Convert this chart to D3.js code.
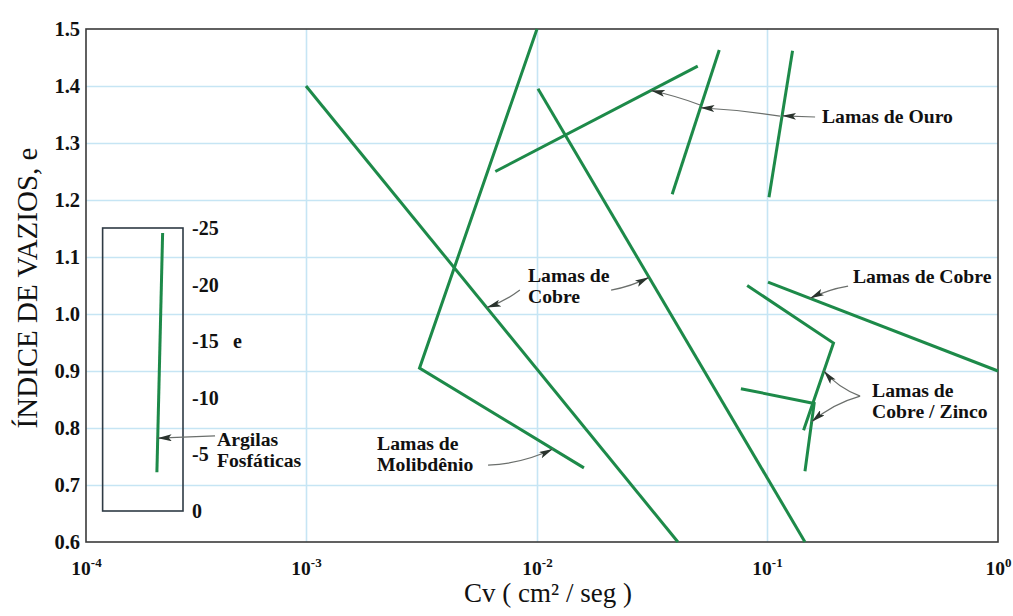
<!DOCTYPE html>
<html><head><meta charset="utf-8">
<script src="https://cdn.jsdelivr.net/npm/d3@7"></script>
<style>
body{margin:0;background:#fff}
svg{display:block}
text{font-family:"Liberation Serif","Times New Roman",serif;fill:#111}
</style>
</head><body>
<svg id="c" width="1013" height="616"></svg>
<script>
// ---------- data ----------
const xDecades = [1e-4, 1e-3, 1e-2, 1e-1, 1];
const xExp = ["-4", "-3", "-2", "-1", "0"];
const yTicks = [0.6, 0.7, 0.8, 0.9, 1.0, 1.1, 1.2, 1.3, 1.4, 1.5];
const insetTicks = [0, -5, -10, -15, -20, -25];

// series: [Cv (cm²/s), e]
const lamasCobreA    = [[0.001, 1.4], [0.041, 0.6]];
const lamasMolibdenio = [[0.01, 1.5], [0.0031, 0.905], [0.016, 0.73]];
const lamasCobreB    = [[0.0101, 1.395], [0.146, 0.6]];
const lamasOuro1     = [[0.0066, 1.25], [0.05, 1.435]];
const lamasOuro2     = [[0.0387, 1.21], [0.062, 1.463]];
const lamasOuro3     = [[0.102, 1.205], [0.129, 1.462]];
const lamasCobreC    = [[0.101, 1.056], [1.0, 0.9]];
const cobreZinco1    = [[0.082, 1.05], [0.194, 0.949], [0.144, 0.796]];
const cobreZinco2    = [[0.077, 0.869], [0.16, 0.843], [0.146, 0.724]];
// inset (e from 0 to -25)
const argilasFosfaticas = [[2.23e-4, -24.56], [2.1e-4, -3.43]];
const insetXRange = [1.19e-4, 2.76e-4];

// labels [x, y, lines]
const labels = [
  {x: 0.173,  y: 1.335, lines: ["Lamas de Ouro"]},
  {x: 0.2354, y: 1.054, lines: ["Lamas de Cobre"]},
  {x: 0.00914, y: 1.056, lines: ["Lamas de", "Cobre"]},
  {x: 0.00203, y: 0.7614, lines: ["Lamas de", "Molibdênio"]},
  {x: 0.285,  y: 0.8544, lines: ["Lamas de", "Cobre / Zinco"]}
];
const insetLabel = {x: 3.94e-4, e: -5.74, lines: ["Argilas", "Fosfáticas"]};

// arrows: from point -> point on a series segment
const arrows = [
  {from: [0.1615, 1.3456], s: lamasOuro3, seg: 0, t: 0.555, bend: 0},
  {from: [0.1138, 1.347],  s: lamasOuro2, seg: 0, t: 0.60,  bend: 2},
  {from: [0.0512, 1.3667], s: lamasOuro1, seg: 0, t: 0.768, bend: 2},
  {from: [0.2244, 1.049],  s: lamasCobreC, seg: 0, t: 0.183, bend: 3},
  {from: [0.00843, 1.042], s: lamasCobreA, seg: 0, t: 0.486, bend: -3},
  {from: [0.0210, 1.042],  s: lamasCobreB, seg: 0, t: 0.416, bend: 3},
  {from: [0.00614, 0.735], s: lamasMolibdenio, seg: 1, t: 0.811, bend: 7},
  {from: [0.253, 0.856],   s: cobreZinco1, seg: 1, t: 0.32, bend: -6},
  {from: [0.253, 0.856],   s: cobreZinco2, seg: 1, t: 0.27, bend: 6}
];

// ---------- scales ----------
const svg = d3.select("#c");
const x = d3.scaleLog().domain(xDecades).range([86, 306, 537, 767, 998]);
const y = d3.scaleLinear().domain([0.6, 1.5]).range([542, 29]);
const ye = d3.scaleLinear().domain([0, -25]).range([511, 228]);
const X0 = x(1e-4), X1 = x(1), Y0 = y(0.6), Y1 = y(1.5);

const GREEN = "#1d8a49", GRID = "#c6e5f4";

// grid
const gy = svg.append("g").attr("transform", `translate(${X0},0)`)
  .call(d3.axisLeft(y).tickValues(yTicks.slice(1, -1)).tickSize(-(X1 - X0)).tickFormat(""));
gy.select(".domain").remove();
gy.selectAll("line").attr("stroke", GRID).attr("stroke-width", 1.6);
const gx = svg.append("g").attr("transform", `translate(0,${Y0})`)
  .call(d3.axisBottom(x).tickValues(xDecades.slice(1, -1)).tickSize(-(Y0 - Y1)).tickFormat(""));
gx.select(".domain").remove();
gx.selectAll("line").attr("stroke", GRID).attr("stroke-width", 1.6);

// frame
svg.append("rect").attr("x", X0).attr("y", Y1).attr("width", X1 - X0).attr("height", Y0 - Y1)
  .attr("fill", "none").attr("stroke", "#3a3a3a").attr("stroke-width", 1.6);

// y tick labels
const ay = svg.append("g").attr("transform", `translate(${X0},0)`)
  .call(d3.axisLeft(y).tickValues(yTicks).tickSize(0).tickPadding(6).tickFormat(d3.format(".1f")));
ay.select(".domain").remove();
ay.selectAll("text").attr("font-family", "Liberation Serif").attr("font-size", 20.5)
  .attr("font-weight", "bold").attr("fill", "#111");

// x tick labels with superscripts
const ax = svg.append("g").attr("transform", `translate(0,${Y0})`)
  .call(d3.axisBottom(x).tickValues(xDecades).tickSize(0).tickFormat(""));
ax.select(".domain").remove();
ax.selectAll(".tick text").each(function(d, i) {
  const t = d3.select(this).attr("y", 33).attr("dy", 0)
    .attr("font-family", "Liberation Serif").attr("font-size", 19.5)
    .attr("font-weight", "bold").attr("fill", "#111").attr("text-anchor", "middle");
  t.append("tspan").text("10");
  t.append("tspan").attr("dy", -8).attr("font-size", 13).text(xExp[i]);
});

// axis titles
svg.append("text").attr("transform", `translate(37,288) rotate(-90)`)
  .attr("text-anchor", "middle").attr("font-size", 29).text("ÍNDICE DE VAZIOS, e");
svg.append("text").attr("x", 548).attr("y", 602)
  .attr("text-anchor", "middle").attr("font-size", 27).text("Cv ( cm² / seg )");

// inset frame + axis
const IX0 = x(insetXRange[0]), IX1 = x(insetXRange[1]);
svg.append("rect").attr("x", IX0).attr("y", ye(-25)).attr("width", IX1 - IX0)
  .attr("height", ye(0) - ye(-25)).attr("fill", "none").attr("stroke", "#2e3a44").attr("stroke-width", 1.6);
const ai = svg.append("g").attr("transform", `translate(${IX1},0)`)
  .call(d3.axisRight(ye).tickValues(insetTicks).tickSize(0).tickPadding(9).tickFormat(d => String(d)));
ai.select(".domain").remove();
ai.selectAll("text").attr("font-family", "Liberation Serif").attr("font-size", 20)
  .attr("font-weight", "bold").attr("fill", "#111");
svg.append("text").attr("x", IX1 + 50).attr("y", ye(-15)).attr("dy", "0.35em")
  .attr("font-size", 20).attr("font-weight", "bold").text("e");

// lines
const line = d3.line().x(d => x(d[0])).y(d => y(d[1]));
const lineInset = d3.line().x(d => x(d[0])).y(d => ye(d[1]));
const series = [lamasCobreA, lamasMolibdenio, lamasCobreB, lamasOuro1, lamasOuro2, lamasOuro3,
  lamasCobreC, cobreZinco1, cobreZinco2];
svg.append("g").selectAll("path").data(series).join("path")
  .attr("d", line).attr("fill", "none").attr("stroke", GREEN).attr("stroke-width", 3)
  .attr("stroke-linejoin", "miter");
svg.append("path").attr("d", lineInset(argilasFosfaticas)).attr("fill", "none")
  .attr("stroke", GREEN).attr("stroke-width", 3);

// arrow marker
svg.append("defs").append("marker").attr("id", "ah").attr("viewBox", "0 0 14 7")
  .attr("refX", 14).attr("refY", 3.5).attr("markerWidth", 14).attr("markerHeight", 7)
  .attr("markerUnits", "userSpaceOnUse").attr("orient", "auto")
  .append("path").attr("d", "M0,0 L14,3.5 L0,7 L3,3.5 z").attr("fill", "#2a332d");

function arrowPath(p0, p1, bend) {
  const mx = (p0[0] + p1[0]) / 2, my = (p0[1] + p1[1]) / 2;
  const dx = p1[0] - p0[0], dy = p1[1] - p0[1], L = Math.hypot(dx, dy) || 1;
  const cx = mx - dy / L * bend, cy = my + dx / L * bend;
  return `M${p0[0]},${p0[1]} Q${cx},${cy} ${p1[0]},${p1[1]}`;
}
arrows.forEach(a => {
  const A = a.s[a.seg], B = a.s[a.seg + 1];
  const pa = [x(A[0]), y(A[1])], pb = [x(B[0]), y(B[1])];
  const tip = [pa[0] + (pb[0] - pa[0]) * a.t, pa[1] + (pb[1] - pa[1]) * a.t];
  const from = [x(a.from[0]), y(a.from[1])];
  svg.append("path").attr("d", arrowPath(from, tip, a.bend)).attr("fill", "none")
    .attr("stroke", "#6b6f6c").attr("stroke-width", 1.2).attr("marker-end", "url(#ah)");
});
// inset arrow
{
  const A = argilasFosfaticas[0], B = argilasFosfaticas[1];
  const pa = [x(A[0]), ye(A[1])], pb = [x(B[0]), ye(B[1])];
  const t = 0.858;
  const tip = [pa[0] + (pb[0] - pa[0]) * t, pa[1] + (pb[1] - pa[1]) * t];
  const from = [x(3.86e-4), ye(-6.63)];
  svg.append("path").attr("d", arrowPath(from, tip, 0)).attr("fill", "none")
    .attr("stroke", "#6b6f6c").attr("stroke-width", 1.2).attr("marker-end", "url(#ah)");
}

// labels
function drawLabel(px, py, lines) {
  const t = svg.append("text").attr("x", px).attr("y", py)
    .attr("font-size", 19.7).attr("font-weight", "bold");
  lines.forEach((s, i) => t.append("tspan").attr("x", px).attr("dy", i ? 21 : 0).text(s));
}
labels.forEach(l => drawLabel(x(l.x), y(l.y), l.lines));
drawLabel(x(insetLabel.x), ye(insetLabel.e), insetLabel.lines);
</script>
</body></html>
